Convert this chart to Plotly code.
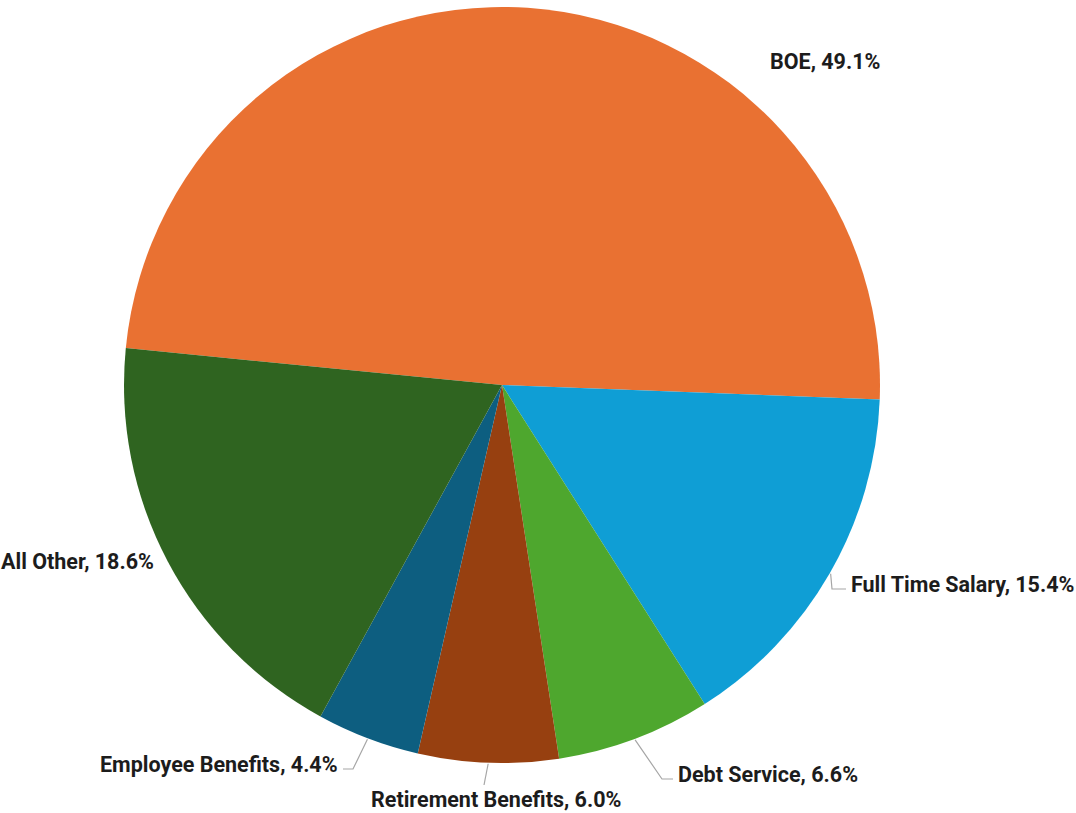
import math
import plotly.graph_objects as go

# Budget share by category
categories = ["BOE", "Full Time Salary", "Debt Service", "Retirement Benefits",
              "Employee Benefits", "All Other"]
shares = [49.1, 15.4, 6.6, 6.0, 4.4, 18.6]
colors = ["#E97132", "#0F9ED5", "#4EA72E", "#974010", "#0D5E80", "#2F6420"]

W, H = 1076, 813
CX, CY, R = 502, 385, 378          # pie centre and radius, px
ROTATION = 275.6                   # start angle of first slice, deg clockwise from 12 o'clock

# label placement: (x, y, xanchor, elbow point or None, line end point or None)
label_layout = [
    (825, 62, "center", None, None),
    (850, 584, "left", (832, 589), (846, 589)),
    (677, 774, "left", (662, 779), (673, 779)),
    (496, 799, "center", None, (484, 785)),
    (339, 764, "right", (353, 769), (343, 769)),
    (0, 561, "left", None, None),
]


def paper(px, py):
    return px / W, 1 - py / H


fig = go.Figure(go.Pie(
    labels=categories,
    values=shares,
    sort=False,
    direction="clockwise",
    rotation=ROTATION,
    marker=dict(colors=colors, line=dict(width=0)),
    textinfo="none",
    hoverinfo="label+percent",
    showlegend=False,
    domain=dict(x=[(CX - R) / W, (CX + R) / W],
                y=[1 - (CY + R) / H, 1 - (CY - R) / H]),
))

total = sum(shares)
angle = ROTATION
annotations, shapes = [], []
for name, val, (lx, ly, anchor, elbow, end) in zip(categories, shares, label_layout):
    span = val / total * 360
    mid = math.radians(angle + span / 2)
    angle += span
    annotations.append(dict(
        x=lx / W, y=1 - ly / H, xref="paper", yref="paper",
        xanchor=anchor, yanchor="middle", showarrow=False, borderpad=0,
        text=f"<b>{name}, {val:.1f}%</b>",
        font=dict(family="Liberation Sans Narrow, Arial Narrow, Roboto", size=21.5,
                  color="#1C1C1C"),
    ))
    if end is not None:
        ex, ey = CX + (R + 1) * math.sin(mid), CY - (R + 1) * math.cos(mid)
        pts = [(ex, ey)] + ([elbow] if elbow else []) + [end]
        path = "M " + " L ".join(f"{paper(x, y)[0]},{paper(x, y)[1]}" for x, y in pts)
        shapes.append(dict(type="path", path=path, xref="paper", yref="paper",
                           line=dict(color="#A6A6A6", width=1.2)))

fig.update_layout(
    width=W, height=H,
    margin=dict(l=0, r=0, t=0, b=0),
    paper_bgcolor="white", plot_bgcolor="white",
    annotations=annotations, shapes=shapes,
)

fig.write_html("out.html")
